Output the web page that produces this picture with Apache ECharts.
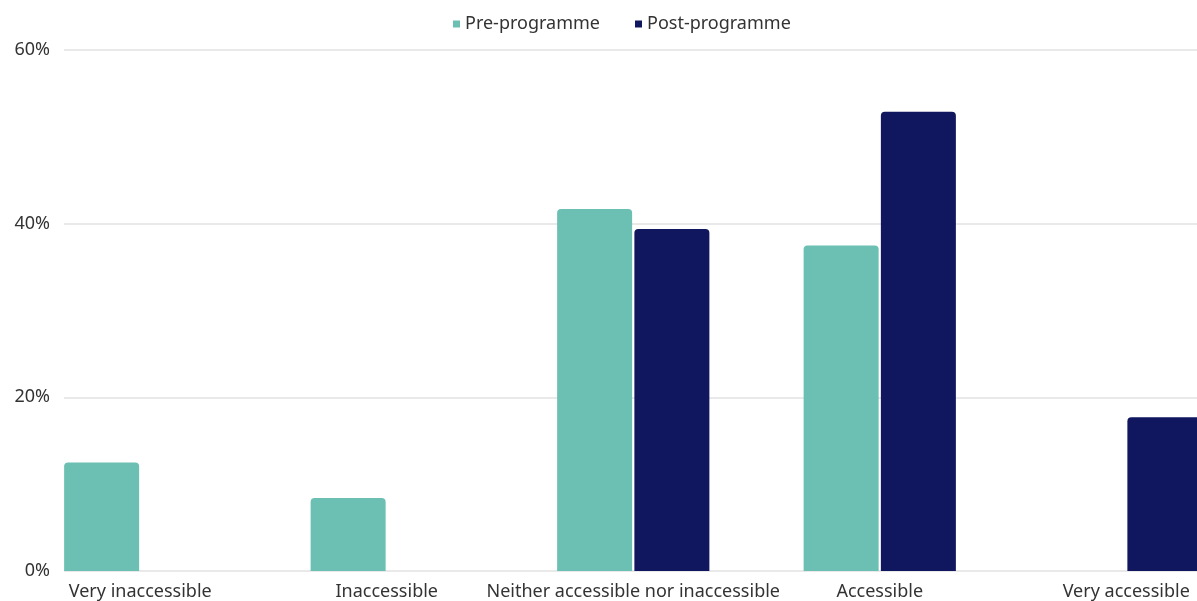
<!DOCTYPE html>
<html>
<head>
<meta charset="utf-8">
<script src="https://cdn.jsdelivr.net/npm/echarts@6/dist/echarts.min.js"></script>
<style>html,body{margin:0;padding:0;background:#fff}#c{width:1197px;height:601px}</style>
</head>
<body>
<div id="c"></div>
<script>
const categories = ["Very inaccessible", "Inaccessible", "Neither accessible nor inaccessible", "Accessible", "Very accessible"];
const preProgramme = [12.5, 8.4, 41.7, 37.5, 0];
const postProgramme = [0, 0, 39.4, 52.9, 17.7];
const yTicks = [0, 20, 40, 60];

const FONT = "Noto Sans";
const chart = echarts.init(document.getElementById('c'), null, {renderer: 'canvas'});
chart.setOption({
  animation: false,
  textStyle: {fontFamily: FONT},
  legend: {
    data: ["Pre-programme", "Post-programme"],
    top: 10, left: 448,
    icon: 'rect', itemWidth: 7, itemHeight: 7, itemGap: 35,
    textStyle: {fontFamily: FONT, fontSize: 18, color: '#333'}
  },
  grid: [
    {left: 17, width: 1232.5, top: 50, bottom: 30, outerBoundsMode: 'none', containLabel: false},
    {left: 64, right: 0, top: 50, bottom: 30, outerBoundsMode: 'none', containLabel: false}
  ],
  xAxis: [
    {type: 'category', gridIndex: 0, data: categories,
     axisLine: {show: false}, axisTick: {show: false},
     axisLabel: {fontFamily: FONT, fontSize: 18, color: '#333', margin: 12, interval: 0}},
    {type: 'value', gridIndex: 1, show: false}
  ],
  yAxis: [
    {type: 'value', gridIndex: 0, min: 0, max: 60, interval: 20, show: false},
    {type: 'value', gridIndex: 1, min: yTicks[0], max: yTicks[yTicks.length-1], interval: 20,
     axisLine: {show: false}, axisTick: {show: false},
     splitLine: {lineStyle: {color: '#e2e2e2', width: 1.5}},
     axisLabel: {formatter: '{value}%', fontFamily: FONT, fontSize: 18, color: '#333', margin: 14}}
  ],
  series: [
    {name: "Pre-programme", type: 'bar', xAxisIndex: 0, yAxisIndex: 0, data: preProgramme,
     barWidth: 75, barGap: '3%', itemStyle: {color: '#6BBFB3', borderRadius: [4,4,0,0]}},
    {name: "Post-programme", type: 'bar', xAxisIndex: 0, yAxisIndex: 0, data: postProgramme,
     barWidth: 75, barGap: '3%', itemStyle: {color: '#11175E', borderRadius: [4,4,0,0]}}
  ]
});
</script>
</body>
</html>
